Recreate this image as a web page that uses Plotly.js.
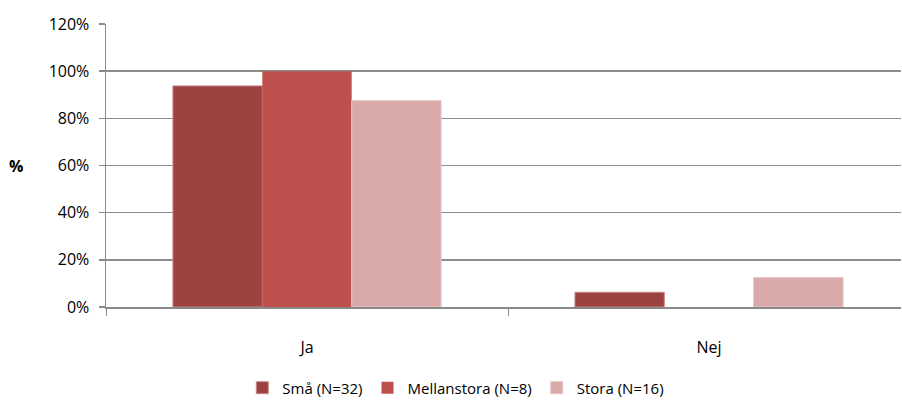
<!DOCTYPE html>
<html>
<head>
<meta charset="utf-8">
<script src="https://cdn.plot.ly/plotly-3.0.1.min.js"></script>
<style>html,body{margin:0;padding:0;background:#fff;}#chart{width:902px;height:417px;}</style>
</head>
<body>
<div id="chart"></div>
<script>
const categories = ["Ja", "Nej"];
const seriesNames = ["Små (N=32)", "Mellanstora (N=8)", "Stora (N=16)"];
const smaValues = [0.9375, 0.0625];
const mellanValues = [1.0, 0.0];
const storaValues = [0.875, 0.125];
const yTickValues = [0, 0.2, 0.4, 0.6, 0.8, 1.0, 1.2];
const yTickLabels = ["0%", "20%", "40%", "60%", "80%", "100%", "120%"];

const colors = ["#9C4240", "#C0504D", "#DAA9A9"];
const lineColors = ["#c98a88", "#C0504D", "#e6c4c4"];
const lineWidths = [1, 0, 1];
const font = "Open Sans, Noto Sans, sans-serif";
const allValues = [smaValues, mellanValues, storaValues];

const data = allValues.map((vals, i) => ({
  type: "bar",
  name: seriesNames[i],
  x: categories,
  y: vals,
  marker: {color: colors[i], line: {color: lineColors[i], width: lineWidths[i]}},
  hoverinfo: "none"
}));

const layout = {
  width: 902, height: 417,
  margin: {l: 106, r: 1, t: 24, b: 110},
  paper_bgcolor: "#fff", plot_bgcolor: "#fff",
  font: {family: font, size: 16, color: "#000"},
  barmode: "group",
  bargap: 0.333,
  bargroupgap: 0,
  showlegend: true,
  legend: {
    orientation: "h", x: 0.44, xanchor: "center", y: -0.286, yanchor: "middle",
    font: {family: font, size: 15, color: "#000"},
    itemwidth: 30, traceorder: "normal"
  },
  xaxis: {
    type: "category",
    range: [-0.5, 1.4776],
    showline: true, linecolor: "#8a8a8a", linewidth: 2,
    showgrid: false,
    ticks: "outside", tickson: "boundaries", ticklen: 7, tickcolor: "#8a8a8a", tickwidth: 1,
    ticklabelstandoff: 25,
    tickfont: {family: font, size: 16}
  },
  yaxis: {
    range: [0, 1.2],
    tickvals: yTickValues, ticktext: yTickLabels,
    showline: true, linecolor: "#8a8a8a", linewidth: 1.5,
    showgrid: true, gridcolor: "#8c8c8c", gridwidth: 1.5,
    zeroline: false,
    ticks: "outside", ticklen: 6, tickcolor: "#8a8a8a", tickwidth: 1.5,
    ticklabelstandoff: 6,
    tickfont: {family: font, size: 16}
  },
  annotations: [{
    text: "<b>%</b>", xref: "paper", yref: "paper", x: -0.113, y: 0.5,
    xanchor: "center", yanchor: "middle", showarrow: false,
    font: {family: font, size: 16, color: "#000"}
  }]
};

Plotly.newPlot("chart", data, layout, {displayModeBar: false, staticPlot: true});
</script>
</body>
</html>
